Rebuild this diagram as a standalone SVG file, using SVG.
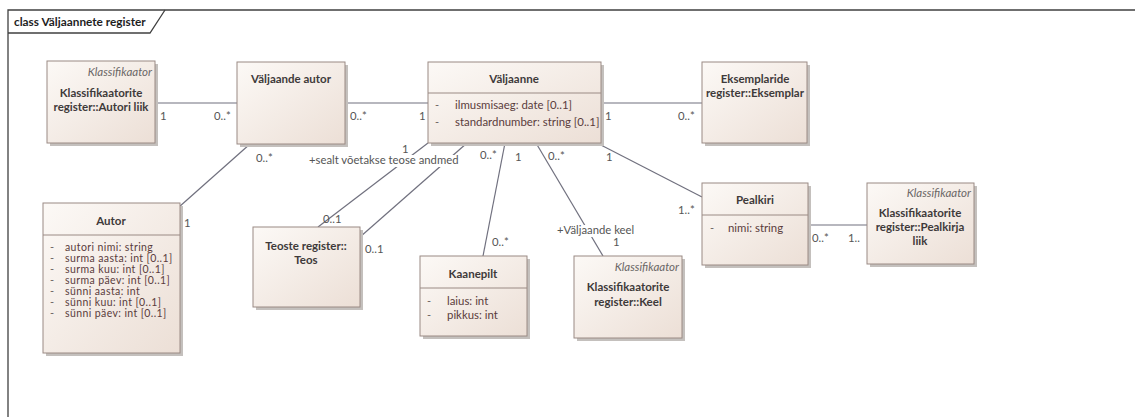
<svg xmlns="http://www.w3.org/2000/svg" width="1135" height="417" viewBox="0 0 1135 417">
  <defs>
    <linearGradient id="boxFill" x1="0" y1="0" x2="1" y2="1">
      <stop offset="0" stop-color="#fcf9f6"/>
      <stop offset="1" stop-color="#ecdfd6"/>
    </linearGradient>
    <style>
      .box { fill: url(#boxFill); stroke: #9a8a84; stroke-width: 1; }
      .shadow { fill: #c4c0bd; }
      .sep { stroke: #9a8a84; stroke-width: 1; }
      .name { font-family: Lato, "Liberation Sans", sans-serif; font-size: 11.5px; font-weight: bold; fill: #3e3a3a; text-anchor: middle; }
      .stereo { font-family: Lato, "Liberation Sans", sans-serif; font-size: 11.5px; font-style: italic; fill: #6a6666; text-anchor: end; }
      .attr { font-family: Lato, "Liberation Sans", sans-serif; font-size: 11.4px; fill: #5a3c3c; }
      .attr.tight { font-size: 10.5px; letter-spacing: 0.4px; }
      .dash { font-family: Lato, "Liberation Sans", sans-serif; font-size: 11px; fill: #6a6060; }
      .conn { stroke: #70707e; stroke-width: 1.2; fill: none; }
      .lbl { font-family: Lato, "Liberation Sans", sans-serif; font-size: 11.3px; fill: #555555; }
      .frame { stroke: #404040; stroke-width: 1.3; fill: none; }
      .title { font-family: Lato, "Liberation Sans", sans-serif; font-size: 11.8px; font-weight: bold; fill: #1e1e1e; }
    </style>
  </defs>

  <rect width="1135" height="417" fill="#ffffff"/>

  <!-- package frame -->
  <g id="frame">
    <path class="frame" d="M8,417 V10 H1135"/>
    <path class="frame" d="M8,33 H150 L165,10"/>
    <text class="title" x="14" y="26">class Väljaannete register</text>
  </g>

  <!-- associations -->
  <g id="connectors">
    <line class="conn" x1="155" y1="103" x2="237" y2="103"/>
    <line class="conn" x1="345" y1="103" x2="428" y2="103"/>
    <line class="conn" x1="601" y1="103" x2="702" y2="103"/>
    <line class="conn" x1="250" y1="144" x2="179" y2="207"/>
    <line class="conn" x1="428" y1="143" x2="318" y2="227"/>
    <line class="conn" x1="467" y1="143" x2="360" y2="237"/>
    <line class="conn" x1="505" y1="143" x2="483" y2="256"/>
    <line class="conn" x1="536" y1="143" x2="603" y2="256"/>
    <line class="conn" x1="597" y1="143" x2="702" y2="197"/>
    <line class="conn" x1="808" y1="225" x2="867" y2="225"/>

    <text class="lbl" x="160" y="120">1</text>
    <text class="lbl" x="214" y="120">0..*</text>
    <text class="lbl" x="350" y="120">0..*</text>
    <text class="lbl" x="419" y="120">1</text>
    <text class="lbl" x="605" y="120">1</text>
    <text class="lbl" x="678" y="120">0..*</text>
    <text class="lbl" x="256" y="162">0..*</text>
    <text class="lbl" x="184" y="227">1</text>
    <rect x="308" y="155" width="150" height="12" fill="#ffffff"/>
    <text class="lbl" x="309" y="164">+sealt võetakse teose andmed</text>
    <text class="lbl" x="402" y="153">1</text>
    <text class="lbl" x="323" y="223">0..1</text>
    <text class="lbl" x="365" y="253">0..1</text>
    <text class="lbl" x="480" y="159">0..*</text>
    <text class="lbl" x="515" y="161">1</text>
    <text class="lbl" x="492" y="246">0..*</text>
    <text class="lbl" x="548" y="160">0..*</text>
    <rect x="556" y="225" width="80" height="12" fill="#ffffff"/>
    <text class="lbl" x="557" y="234">+Väljaande keel</text>
    <text class="lbl" x="613" y="246">1</text>
    <text class="lbl" x="606" y="161">1</text>
    <text class="lbl" x="678" y="214">1..*</text>
    <text class="lbl" x="812" y="242">0..*</text>
    <text class="lbl" x="848" y="242">1..</text>
  </g>

  <g id="autoriLiik">
    <rect class="shadow" x="50" y="64" width="108" height="82"/>
    <rect class="box" x="47" y="61" width="108" height="82"/>
    <text class="stereo" x="152" y="76">Klassifikaator</text>
    <text class="name" x="101" y="97">Klassifikaatorite</text>
    <text class="name" x="101" y="111">register::Autori liik</text>
  </g>

  <g id="valjaandeAutor">
    <rect class="shadow" x="240" y="65" width="108" height="82"/>
    <rect class="box" x="237" y="62" width="108" height="82"/>
    <text class="name" x="291" y="83">Väljaande autor</text>
  </g>

  <g id="valjaanne">
    <rect class="shadow" x="431" y="65" width="173" height="81"/>
    <rect class="box" x="428" y="62" width="173" height="81"/>
    <text class="name" x="514" y="83">Väljaanne</text>
    <line class="sep" x1="428" y1="93" x2="601" y2="93"/>
    <text class="dash" x="435" y="109">-</text>
    <text class="attr" x="455" y="109">ilmusmisaeg: date [0..1]</text>
    <text class="dash" x="435" y="126">-</text>
    <text class="attr" x="455" y="126">standardnumber: string [0..1]</text>
  </g>

  <g id="eksemplar">
    <rect class="shadow" x="705" y="65" width="105" height="81"/>
    <rect class="box" x="702" y="62" width="105" height="81"/>
    <text class="name" x="755" y="83">Eksemplaride</text>
    <text class="name" x="755" y="97">register::Eksemplar</text>
  </g>

  <g id="autor">
    <rect class="shadow" x="46" y="206" width="137" height="150"/>
    <rect class="box" x="43" y="203" width="137" height="150"/>
    <text class="name" x="111" y="225">Autor</text>
    <line class="sep" x1="43" y1="235" x2="180" y2="235"/>
    <g class="dash">
      <text x="50" y="251">-</text>
      <text x="50" y="262">-</text>
      <text x="50" y="273">-</text>
      <text x="50" y="284">-</text>
      <text x="50" y="295">-</text>
      <text x="50" y="306">-</text>
      <text x="50" y="317">-</text>
    </g>
    <g class="attr tight">
      <text x="65" y="251">autori nimi: string</text>
      <text x="65" y="262">surma aasta: int [0..1]</text>
      <text x="65" y="273">surma kuu: int [0..1]</text>
      <text x="65" y="284">surma päev: int [0..1]</text>
      <text x="65" y="295">sünni aasta: int</text>
      <text x="65" y="306">sünni kuu: int [0..1]</text>
      <text x="65" y="317">sünni päev: int [0..1]</text>
    </g>
  </g>

  <g id="teos">
    <rect class="shadow" x="256" y="230" width="107" height="80"/>
    <rect class="box" x="253" y="227" width="107" height="80"/>
    <text class="name" x="306" y="250">Teoste register::</text>
    <text class="name" x="306" y="264">Teos</text>
  </g>

  <g id="kaanepilt">
    <rect class="shadow" x="423" y="259" width="107" height="80"/>
    <rect class="box" x="420" y="256" width="107" height="80"/>
    <text class="name" x="473" y="278">Kaanepilt</text>
    <line class="sep" x1="420" y1="288" x2="527" y2="288"/>
    <text class="dash" x="427" y="305">-</text>
    <text class="attr" x="447" y="305">laius: int</text>
    <text class="dash" x="427" y="319">-</text>
    <text class="attr" x="447" y="319">pikkus: int</text>
  </g>

  <g id="keel">
    <rect class="shadow" x="577" y="259" width="108" height="82"/>
    <rect class="box" x="574" y="256" width="108" height="82"/>
    <text class="stereo" x="679" y="271">Klassifikaator</text>
    <text class="name" x="628" y="291">Klassifikaatorite</text>
    <text class="name" x="628" y="306">register::Keel</text>
  </g>

  <g id="pealkiri">
    <rect class="shadow" x="705" y="186" width="106" height="82"/>
    <rect class="box" x="702" y="183" width="106" height="82"/>
    <text class="name" x="755" y="204">Pealkiri</text>
    <line class="sep" x1="702" y1="215" x2="808" y2="215"/>
    <text class="dash" x="710" y="232">-</text>
    <text class="attr" x="728" y="232">nimi: string</text>
  </g>

  <g id="pealkirjaLiik">
    <rect class="shadow" x="870" y="186" width="107" height="81"/>
    <rect class="box" x="867" y="183" width="107" height="81"/>
    <text class="stereo" x="971" y="197">Klassifikaator</text>
    <text class="name" x="920" y="217">Klassifikaatorite</text>
    <text class="name" x="920" y="231">register::Pealkirja</text>
    <text class="name" x="920" y="245">liik</text>
  </g>
</svg>
